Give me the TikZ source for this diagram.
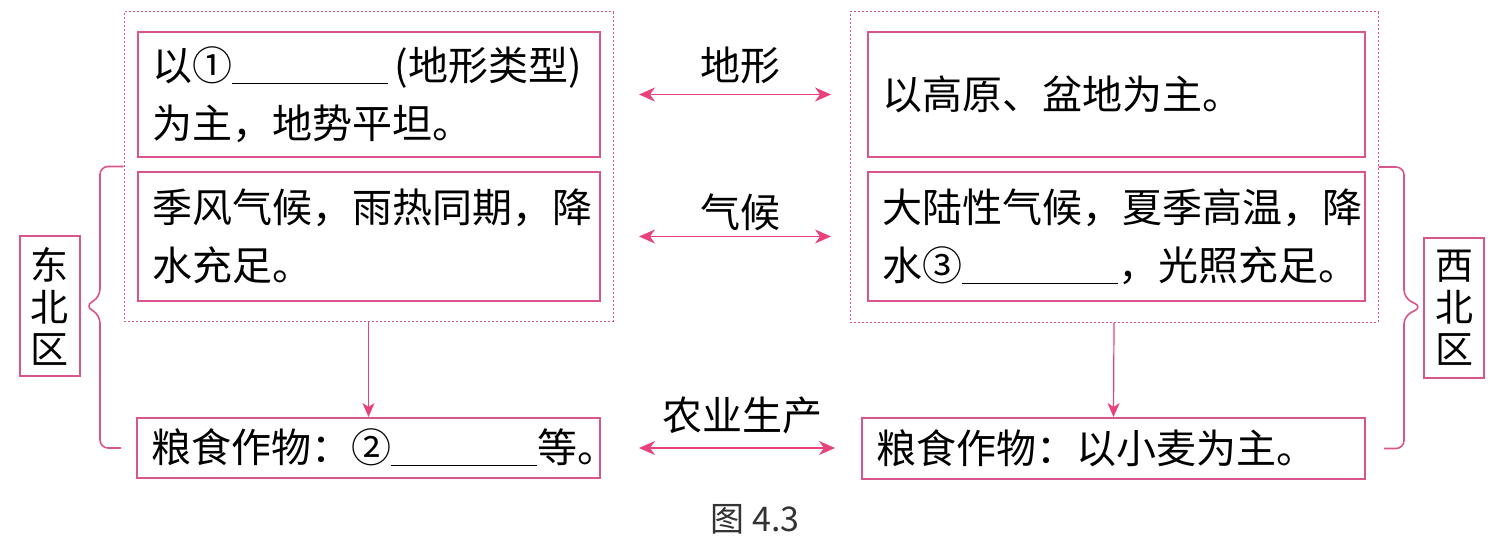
\documentclass[tikz,border=0pt]{standalone}
\usepackage{fontspec}
\setmainfont{Noto Sans CJK SC}
\usepackage{xcolor}
\usetikzlibrary{arrows.meta}
\definecolor{boxpink}{HTML}{D9558E}
\definecolor{arrowpink}{HTML}{E8417B}
\newcommand{\fillblank}[1][78pt]{\underline{\hspace{#1}}}

\begin{document}
\begin{tikzpicture}[x=0.5pt,y=-0.5pt]
\tikzset{every node/.style={font=\fontsize{20}{29}\selectfont,inner sep=0pt}}
\tikzset{infobox/.style={draw=boxpink,line width=1pt,inner xsep=7pt,align=left}}
\tikzset{areabox/.style={draw=boxpink,line width=0.8pt,minimum width=30pt,minimum height=70pt,align=center,font=\fontsize{19}{21}\selectfont}}
\tikzset{groupbox/.style={draw=boxpink,line width=0.5pt,dash pattern=on 1pt off 1pt}}
\tikzset{link/.style={arrowpink,line width=0.8pt,{Stealth[length=8pt,width=7pt,inset=2.5pt]}-{Stealth[length=8pt,width=7pt,inset=2.5pt]}}}
\tikzset{flow/.style={arrowpink,line width=0.6pt,-{Stealth[length=7pt,width=6pt,inset=2pt]}}}
\tikzset{bracket/.style={boxpink,line width=0.8pt,rounded corners=4pt}}

\useasboundingbox (0,0) rectangle (1508,540);

\node[groupbox,minimum width=244.5pt,minimum height=154.5pt] (nedot) at (368.5,166.5) {};
\node[groupbox,minimum width=264pt,minimum height=155pt] (nwdot) at (1114,167) {};

\node[infobox,text width=217pt,minimum height=62.5pt] (ne1) at (369,94.5) {以①\fillblank\,(地形类型)\\为主，地势平坦。};
\node[infobox,text width=217pt,minimum height=64.5pt] (ne2) at (369,236.5) {季风气候，雨热同期，降\\水充足。};
\node[infobox,text width=217.5pt,minimum height=30pt] (ne3) at (368.5,448) {粮食作物：②\fillblank[73pt]等。};

\node[infobox,text width=234.5pt,minimum height=62.5pt] (nw1) at (1116.5,94.5) {以高原、盆地为主。};
\node[infobox,text width=234.5pt,minimum height=64.5pt] (nw2) at (1116.5,236.5) {大陆性气候，夏季高温，降\\水③\fillblank，光照充足。};
\node[infobox,text width=237.5pt,minimum height=30.5pt] (nw3) at (1113.5,448.5) {粮食作物：以小麦为主。};

\node[areabox] (nelabel) at (50,306) {东\\北\\区};
\node[areabox] (nwlabel) at (1454,308) {西\\北\\区};

\node (terrain) at (740,65) {地形};
\node (climate) at (740,212) {气候};
\node (farming) at (742,415) {农业生产};

\draw[link,shorten <=19pt,shorten >=18pt] (ne1.east) -- (nw1.west);
\draw[link,shorten <=19pt,shorten >=18pt] (ne2.east) -- (nw2.west);
\draw[link,shorten <=19pt,shorten >=13pt] (ne3.east) -- (ne3.east -| nw3.west);

\draw[flow] (nedot.south) -- (ne3.north);
\draw[flow] (nwdot.south) -- (nw3.north);

\coordinate (netip) at (85,306);
\coordinate (nwtip) at (1422,307);
\draw[bracket,shorten >=7.5pt] (nedot.west) -| (100,297) -- (netip) -- (100,315) |- (ne3.west);
\draw[bracket,shorten >=9pt] (nwdot.east) -| (1404,298) -- (nwtip) -- (1404,316) |- (nw3.east);

\node[font=\fontsize{17}{20}\selectfont,text=black!80] (caption) at (755,519) {图 4.3};
\end{tikzpicture}
\end{document}
